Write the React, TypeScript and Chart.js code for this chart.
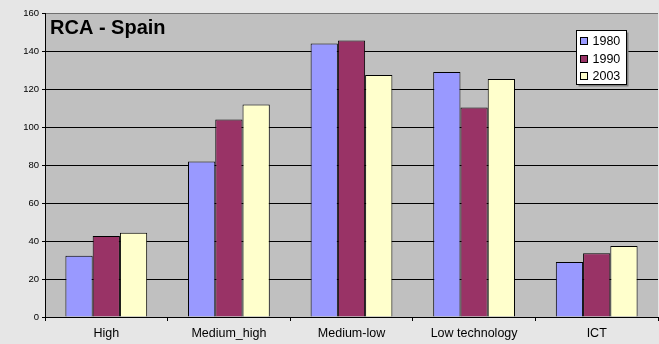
import React, { useEffect, useRef } from "react";
import { Chart, registerables } from "chart.js";

Chart.register(...registerables);

const categories = ["High", "Medium_high", "Medium-low", "Low technology", "ICT"];
const seriesLabels = ["1980", "1990", "2003"];
const values1980 = [32.3, 81.8, 143.9, 129, 28.9];
const values1990 = [42.6, 103.9, 145.5, 110.2, 33.5];
const values2003 = [44.4, 111.9, 127.4, 125.3, 37.4];
const seriesColors = ["#9999ff", "#993366", "#ffffcc"];
const titleText = "RCA - Spain";
const yMin = 0;
const yMax = 160;
const yStep = 20;

const FONT = "'Liberation Sans', Arial, sans-serif";

const decorPlugin = {
  id: "decor",
  beforeDraw(chart: any) {
    const { ctx, chartArea } = chart;
    ctx.save();
    ctx.fillStyle = "#e6e6e6";
    ctx.fillRect(0, 0, chart.width, chart.height);
    ctx.fillStyle = "#c0c0c0";
    ctx.fillRect(chartArea.left, chartArea.top, chartArea.right - chartArea.left, chartArea.bottom - chartArea.top);
    ctx.restore();
  },
  afterDraw(chart: any) {
    const { ctx, chartArea } = chart;
    ctx.save();
    ctx.fillStyle = "#000";
    ctx.font = `bold 20px ${FONT}`;
    ctx.textBaseline = "alphabetic";
    ctx.textAlign = "left";
    ctx.fillText(titleText, chartArea.left + 5, chartArea.top + 20.5);
    const bx = 576.5, by = 30.5, bw = 50, bh = 54;
    ctx.fillStyle = "#808080";
    ctx.fillRect(bx + 2, by + 2, bw, bh);
    ctx.fillStyle = "#ffffff";
    ctx.fillRect(bx, by, bw, bh);
    ctx.strokeStyle = "#000";
    ctx.lineWidth = 1;
    ctx.strokeRect(bx, by, bw, bh);
    ctx.font = `12.5px ${FONT}`;
    ctx.textBaseline = "middle";
    chart.data.datasets.forEach((ds: any, i: number) => {
      const cy = 41 + i * 17.7;
      ctx.fillStyle = ds.backgroundColor;
      ctx.fillRect(580.5, Math.round(cy) - 3.5, 7, 7);
      ctx.strokeStyle = "#000";
      ctx.strokeRect(580.5, Math.round(cy) - 3.5, 7, 7);
      ctx.fillStyle = "#000";
      ctx.fillText(ds.label, 592.5, cy + 0.5);
    });
    ctx.restore();
  },
};

export default function App() {
  const ref = useRef<HTMLCanvasElement>(null);
  useEffect(() => {
    if (!ref.current) return;
    const seriesValues = [values1980, values1990, values2003];
    const chart = new Chart(ref.current, {
      type: "bar",
      data: {
        labels: categories,
        datasets: seriesLabels.map((label, i) => ({
          label,
          data: seriesValues[i],
          backgroundColor: seriesColors[i],
          borderColor: "#000000",
          borderWidth: 1,
          barPercentage: 1,
          categoryPercentage: 0.667,
        })),
      },
      options: {
        responsive: false,
        animation: false,
        layout: { padding: { left: 0, top: 13, right: 1, bottom: 0 } },
        plugins: {
          legend: { display: false },
          tooltip: { enabled: false },
          title: { display: false },
        },
        scales: {
          x: {
            afterFit: (s: any) => { s.height = 27; },
            grid: {
              drawOnChartArea: false,
              drawTicks: true,
              tickLength: 4,
              tickColor: "#000",
            },
            border: { display: true, color: "#000", width: 1 },
            ticks: {
              color: "#000",
              padding: 5,
              font: { family: FONT, size: 12.5 },
              maxRotation: 0,
              autoSkip: false,
            },
          },
          y: {
            min: yMin,
            max: yMax,
            afterFit: (s: any) => { s.width = 45; },
            grid: {
              color: (c: any) => (c.tick && c.tick.value === yMax ? "#707070" : "#000"),
              lineWidth: 1,
              drawTicks: true,
              tickLength: 3,
              tickColor: "#000",
            },
            border: { display: true, color: "#000", width: 1 },
            ticks: {
              stepSize: yStep,
              color: "#000",
              padding: 3,
              font: { family: FONT, size: 9.5 },
            },
          },
        },
      },
      plugins: [decorPlugin],
    });
    return () => chart.destroy();
  }, []);
  return (
    <div style={{ position: "fixed", left: 0, top: 0, width: 659, height: 344 }}>
      <canvas ref={ref} width={659} height={344} />
    </div>
  );
}
